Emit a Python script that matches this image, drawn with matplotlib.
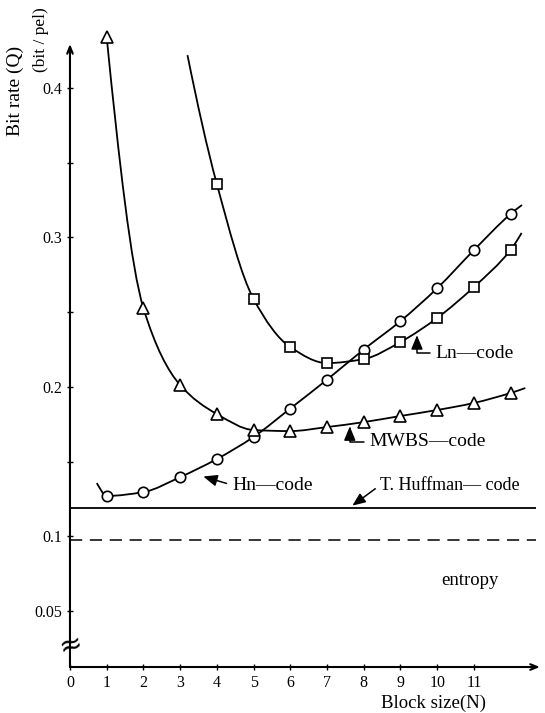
import numpy as np
import matplotlib
matplotlib.use("Agg")
import matplotlib.pyplot as plt
from matplotlib.path import Path
from matplotlib.patches import PathPatch

plt.rcParams["font.family"] = ["Liberation Serif", "DejaVu Serif"]

# block size N and bit rate Q (bit/pel)
n_hn = [1, 2, 3, 4, 5, 6, 7, 8, 9, 10, 11, 12]
q_hn = [0.127, 0.1296, 0.1396, 0.1517, 0.1665, 0.1855,
        0.2048, 0.2250, 0.2440, 0.2660, 0.2915, 0.3157]

n_ln = [4, 5, 6, 7, 8, 9, 10, 11, 12]
q_ln = [0.3357, 0.2588, 0.2266, 0.2159, 0.2186, 0.2300, 0.2461, 0.2668, 0.2916]

n_mwbs = [1, 2, 3, 4, 5, 6, 7, 8, 9, 10, 11, 12]
q_mwbs = [0.434, 0.2527, 0.2012, 0.1818, 0.1711, 0.1704,
          0.1731, 0.1764, 0.1805, 0.1845, 0.1892, 0.1959]

# the drawn curves run a little past the first / last marker
hn_start, hn_end = (0.73, 0.1356), (12.31, 0.3217)
ln_start, ln_end = (3.2, 0.422), (12.3, 0.303)
mwbs_end = (12.4, 0.1992)

q_huffman = 0.119
q_entropy = 0.0975
n_lines_end = 12.7

x_ticks = list(range(12))
y_ticks = [0.05, 0.1, 0.15, 0.2, 0.25, 0.3, 0.35, 0.4]
y_ticklabels = ["0.05", "0.1", "", "0.2", "", "0.3", "", "0.4"]

x_max, y_low, y_high = 12.8, 0.0125, 0.4455


def smooth_path(xs, ys):
    # shape preserving cubic (pchip) through the points, as bezier segments
    xs = np.asarray(xs, float)
    ys = np.asarray(ys, float)
    h = np.diff(xs)
    d = np.diff(ys) / h
    m = np.zeros_like(ys)
    for k in range(1, len(ys) - 1):
        if d[k - 1] * d[k] > 0:
            w1 = 2 * h[k] + h[k - 1]
            w2 = h[k] + 2 * h[k - 1]
            m[k] = (w1 + w2) / (w1 / d[k - 1] + w2 / d[k])

    def edge(h0, h1, d0, d1):
        s = ((2 * h0 + h1) * d0 - h0 * d1) / (h0 + h1)
        if np.sign(s) != np.sign(d0):
            return 0.0
        if np.sign(d0) != np.sign(d1) and abs(s) > 3 * abs(d0):
            return 3 * d0
        return s

    m[0] = edge(h[0], h[1], d[0], d[1])
    m[-1] = edge(h[-1], h[-2], d[-1], d[-2])
    verts = [(xs[0], ys[0])]
    codes = [Path.MOVETO]
    for i in range(len(h)):
        verts += [(xs[i] + h[i] / 3, ys[i] + m[i] * h[i] / 3),
                  (xs[i + 1] - h[i] / 3, ys[i + 1] - m[i + 1] * h[i] / 3),
                  (xs[i + 1], ys[i + 1])]
        codes += [Path.CURVE4] * 3
    return Path(verts, codes)


fig = plt.figure(figsize=(5.45, 7.13), dpi=100)
ax = fig.add_axes([0.1284, 0.0645, 0.8624, 0.9074])
ax.set_xlim(0, x_max)
ax.set_ylim(y_low, y_high)
for s in ax.spines.values():
    s.set_visible(False)

curves = [
    ([hn_start[0]] + n_hn + [hn_end[0]], [hn_start[1]] + q_hn + [hn_end[1]]),
    ([ln_start[0]] + n_ln + [ln_end[0]], [ln_start[1]] + q_ln + [ln_end[1]]),
    (n_mwbs + [mwbs_end[0]], q_mwbs + [mwbs_end[1]]),
]
for xs, ys in curves:
    ax.add_patch(PathPatch(smooth_path(xs, ys), fill=False, lw=1.3,
                           ec="black", zorder=2, clip_on=False))

mk = dict(ls="none", mfc="white", mec="black", mew=1.2, zorder=3, clip_on=False)
ax.plot(n_hn, q_hn, marker="o", ms=7.5, **mk)
ax.plot(n_ln, q_ln, marker="s", ms=6.5, **mk)
ax.plot(n_mwbs, q_mwbs, marker="^", ms=8, **mk)

ax.hlines(q_huffman, 0, n_lines_end, color="black", lw=1.3)
ax.hlines(q_entropy, 0, n_lines_end, color="black", lw=1.1,
          linestyles=(0, (8, 5)))

# axes with arrow heads
ax.annotate("", xy=(0, 0.4295), xytext=(0, y_low),
            arrowprops=dict(arrowstyle="->,head_length=0.5,head_width=0.2",
                            lw=1.5, color="black", shrinkA=0, shrinkB=0))
ax.annotate("", xy=(x_max, y_low), xytext=(0, y_low),
            arrowprops=dict(arrowstyle="->,head_length=0.5,head_width=0.2",
                            lw=1.5, color="black", shrinkA=0, shrinkB=0))
# axis break mark
ax.text(0, 0.0272, "≈", fontsize=20, ha="center", va="center",
        rotation=15, family="DejaVu Sans")

ax.set_xticks(x_ticks)
ax.set_xticklabels([str(t) for t in x_ticks])
ax.set_yticks(y_ticks)
ax.set_yticklabels(y_ticklabels)
ax.tick_params(direction="inout", length=5, width=1, labelsize=11.5, pad=3)

# curve labels with pointers
arrow = dict(arrowstyle="-|>,head_length=0.6,head_width=0.25", lw=1.1,
             color="black", shrinkA=2, shrinkB=0, relpos=(0, 0.5))
lbl = dict(ha="left", va="center", fontsize=14)
ax.annotate("Ln—code", xy=(9.45, 0.2345), xytext=(9.95, 0.2226),
            arrowprops=dict(arrow, connectionstyle="angle,angleA=0,angleB=90,rad=0"),
            **lbl)
ax.annotate("MWBS—code", xy=(7.62, 0.1735), xytext=(8.15, 0.1631),
            arrowprops=dict(arrow, connectionstyle="angle,angleA=0,angleB=90,rad=0"),
            **lbl)
ax.annotate("Hn—code", xy=(3.63, 0.140), xytext=(4.41, 0.1343),
            arrowprops=arrow, **lbl)
ax.annotate("T. Huffman— code", xy=(7.69, 0.1205), xytext=(8.45, 0.1343),
            arrowprops=arrow, ha="left", va="center", fontsize=13)
ax.text(10.1, 0.0707, "entropy", ha="left", va="center", fontsize=13.5)

fig.text(0.0275, 0.8724, "Bit rate (Q)", rotation=90, ha="center",
         va="center", fontsize=14)
fig.text(0.0752, 0.9439, "(bit / pel)", rotation=90, ha="center",
         va="center", fontsize=12.5)
fig.text(0.7945, 0.014, "Block size(N)", ha="center", va="center", fontsize=13.5)

fig.savefig("out.png", dpi=100)
